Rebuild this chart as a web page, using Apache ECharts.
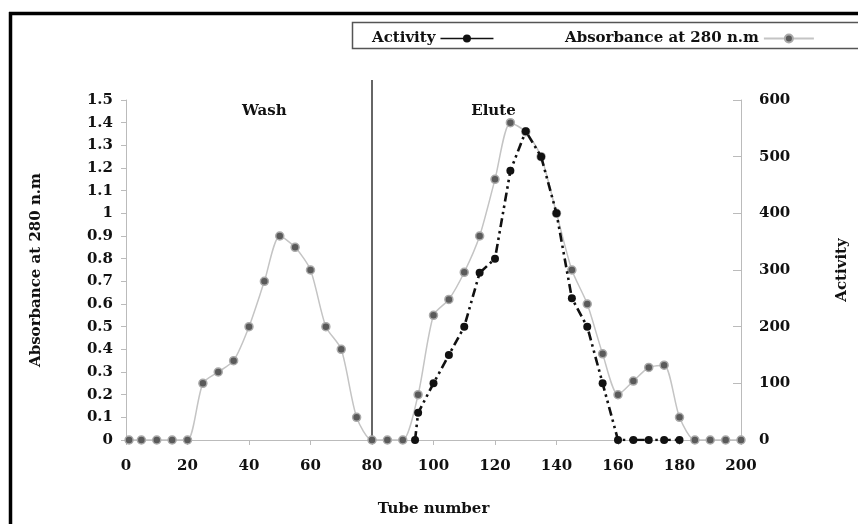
<!DOCTYPE html>
<html>
<head>
<meta charset="utf-8">
<script src="https://cdn.jsdelivr.net/npm/echarts@6/dist/echarts.min.js"></script>
<style>
  html, body { margin: 0; padding: 0; background: #fff; }
  #chart { width: 858px; height: 524px; }
</style>
</head>
<body>
<div id="chart"></div>
<script>
// absorbance at 280 nm, per tube
const absTubes = [1, 5, 10, 15, 20, 25, 30, 35, 40, 45, 50, 55, 60, 65, 70, 75, 80, 85, 90, 95,
    100, 105, 110, 115, 120, 125, 130, 135, 140, 145, 150, 155, 160, 165, 170, 175, 180, 185, 190, 195, 200];
const absValues = [0, 0, 0, 0, 0, 0.25, 0.3, 0.35, 0.5, 0.7, 0.9, 0.85, 0.75, 0.5, 0.4, 0.1, 0, 0, 0, 0.2,
    0.55, 0.62, 0.74, 0.9, 1.15, 1.4, 1.36, 1.25, 1.0, 0.75, 0.6, 0.38, 0.2, 0.26, 0.32, 0.33, 0.1, 0, 0, 0, 0];

// enzyme activity, per tube
const actTubes = [94, 95, 100, 105, 110, 115, 120, 125, 130, 135, 140, 145, 150, 155, 160, 165, 170, 175, 180];
const actValues = [0, 48, 100, 150, 200, 295, 320, 475, 545, 500, 400, 250, 200, 100, 0, 0, 0, 0, 0];

const seriesNames = ["Activity", "Absorbance at 280 n.m"];
const phaseLabels = ["Wash", "Elute"];
const dividerTube = 80;

const font = "'DejaVu Serif', 'Liberation Serif', serif";
const labelStyle = { color: "#111", fontFamily: font, fontWeight: "bold", fontSize: 15 };
const legendBase = { top: 31, align: "right", itemHeight: 10, padding: 0, textStyle: labelStyle };

const chart = echarts.init(document.getElementById("chart"));
chart.setOption({
    animation: false,
    backgroundColor: "#fff",
    grid: { left: 126, right: 117, top: 100, bottom: 84 },
    legend: [
        Object.assign({
            left: 372,
            itemWidth: 53,
            data: [{ name: seriesNames[0], lineStyle: { type: "solid", width: 1.5 } }],
        }, legendBase),
        Object.assign({
            left: 565,
            itemWidth: 50,
            data: [{ name: seriesNames[1] }],
        }, legendBase),
    ],
    xAxis: {
        type: "value",
        min: 0,
        max: 200,
        interval: 20,
        name: "Tube number",
        nameLocation: "middle",
        nameGap: 62,
        nameTextStyle: labelStyle,
        axisLine: { lineStyle: { color: "#bbb" } },
        axisTick: { lineStyle: { color: "#bbb" }, length: 5 },
        axisLabel: Object.assign({ margin: 19 }, labelStyle),
        splitLine: { show: false },
    },
    yAxis: [
        {
            type: "value",
            min: 0,
            max: 1.5,
            interval: 0.1,
            name: "Absorbance at 280 n.m",
            nameLocation: "middle",
            nameGap: 82,
            nameTextStyle: labelStyle,
            axisLine: { show: true, lineStyle: { color: "#bbb" } },
            axisTick: { show: true, lineStyle: { color: "#bbb" }, length: 5 },
            axisLabel: Object.assign({ margin: 13, formatter: v => String(+v.toFixed(1)) }, labelStyle),
            splitLine: { show: false },
        },
        {
            type: "value",
            min: 0,
            max: 600,
            interval: 100,
            position: "right",
            name: "Activity",
            nameLocation: "middle",
            nameRotate: 90,
            nameGap: 94,
            nameTextStyle: labelStyle,
            axisLine: { show: true, lineStyle: { color: "#bbb" } },
            axisTick: { show: true, inside: true, lineStyle: { color: "#bbb" }, length: 8 },
            axisLabel: Object.assign({ margin: 18 }, labelStyle),
            splitLine: { show: false },
        },
    ],
    series: [
        {
            name: seriesNames[1],
            type: "line",
            yAxisIndex: 0,
            data: absTubes.map((t, i) => [t, absValues[i]]),
            smooth: 0.25,
            symbol: "circle",
            symbolSize: 8,
            lineStyle: { color: "#c4c4c4", width: 1.5 },
            itemStyle: { color: "#5a5a5a", borderColor: "#aaa", borderWidth: 1.5 },
            z: 2,
        },
        {
            name: seriesNames[0],
            type: "line",
            yAxisIndex: 1,
            data: actTubes.map((t, i) => [t, actValues[i]]),
            symbol: "circle",
            symbolSize: 8,
            lineStyle: { color: "#111", width: 2.6, type: [9, 4, 2.5, 4, 2.5, 4] },
            itemStyle: { color: "#111" },
            z: 3,
        },
    ],
});

// frame, legend box, wash/elute divider and labels placed through the axes
const divTop = chart.convertToPixel({ xAxisIndex: 0, yAxisIndex: 0 }, [dividerTube, 1.5]);
const divBase = chart.convertToPixel({ xAxisIndex: 0, yAxisIndex: 0 }, [dividerTube, 0]);
const washPos = chart.convertToPixel({ xAxisIndex: 0, yAxisIndex: 0 }, [45, 1.45]);
const elutePos = chart.convertToPixel({ xAxisIndex: 0, yAxisIndex: 0 }, [119.5, 1.45]);

chart.setOption({
    graphic: [
        { type: "line", shape: { x1: 9, y1: 13.5, x2: 858, y2: 13.5 }, style: { stroke: "#000", lineWidth: 3.5 } },
        { type: "line", shape: { x1: 10.5, y1: 12, x2: 10.5, y2: 524 }, style: { stroke: "#000", lineWidth: 3.5 } },
        { type: "rect", shape: { x: 352.5, y: 22.5, width: 520, height: 26 }, style: { fill: "none", stroke: "#555", lineWidth: 1.5 }, z: -1 },
        { type: "line", shape: { x1: divTop[0], y1: divTop[1] - 20, x2: divBase[0], y2: divBase[1] }, style: { stroke: "#333", lineWidth: 1.5 } },
        { type: "text", x: washPos[0], y: washPos[1], style: { text: phaseLabels[0], align: "center", verticalAlign: "middle", fill: "#111", font: "bold 15px " + font } },
        { type: "text", x: elutePos[0], y: elutePos[1], style: { text: phaseLabels[1], align: "center", verticalAlign: "middle", fill: "#111", font: "bold 15px " + font } },
    ],
});

window.addEventListener("resize", function () {
    chart.resize();
});
</script>
</body>
</html>
